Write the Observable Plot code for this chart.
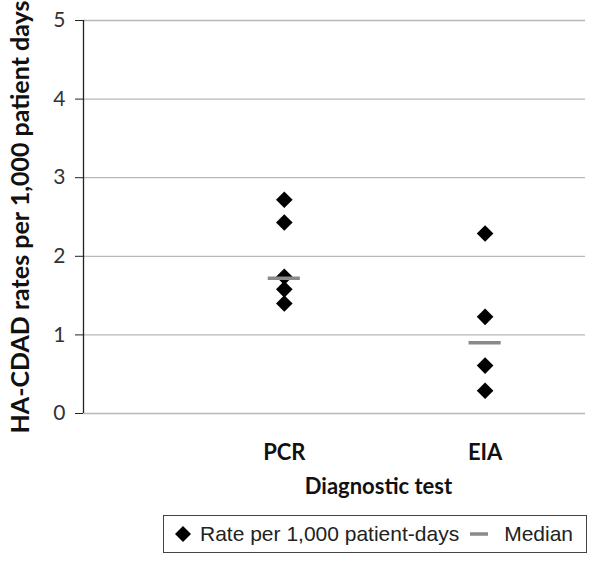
<!DOCTYPE html>
<html><head><meta charset="utf-8">
<script src="https://cdn.jsdelivr.net/npm/d3@7"></script>
<script src="https://cdn.jsdelivr.net/npm/@observablehq/plot@0.6"></script>
<style>
body{margin:0;background:#fff;}
#wrap{position:relative;width:601px;height:563px;}
#legend{position:absolute;left:163px;top:515px;width:424px;height:38px;border:1px solid #444;box-sizing:border-box;font-family:"Liberation Sans",Arial,sans-serif;font-size:21px;color:#222;display:flex;align-items:center;white-space:nowrap;}
#legend svg{display:block;flex:none;}
</style></head><body><div id="wrap"></div>
<script>
const tests = ["PCR", "EIA"];
const pcrRates = [2.72, 2.43, 1.74, 1.58, 1.40];
const eiaRates = [2.29, 1.23, 0.61, 0.29];
const medians = [1.72, 0.90];
const yTicks = [0, 1, 2, 3, 4, 5];
const yTitle = "HA-CDAD rates per 1,000 patient days";
const xTitle = "Diagnostic test";
const legendLabels = ["Rate per 1,000 patient-days", "Median"];

const points = [
  ...pcrRates.map(v => ({test: tests[0], x: 1, v})),
  ...eiaRates.map(v => ({test: tests[1], x: 2, v}))
];
const medianData = medians.map((v, i) => ({test: tests[i], x: i + 1, v}));

const chart = Plot.plot({
  width: 601, height: 563,
  marginLeft: 83, marginRight: 16, marginTop: 20, marginBottom: 150,
  style: {fontFamily: "Lato, sans-serif", background: "white", overflow: "visible"},
  x: {domain: [0, 2.5], axis: null},
  y: {domain: [0, 5], axis: null},
  marks: [
    Plot.gridY(yTicks, {stroke: "#b8b8b8", strokeOpacity: 1, strokeWidth: 1.3}),
    Plot.ruleX([0], {stroke: "#222", strokeWidth: 1.3}),
    Plot.axisY(yTicks, {tickFormat: d => String(d), tickSize: 8, tickPadding: 10, fontSize: 21, stroke: "#222", fill: "#333", label: null}),
    Plot.axisX([1, 2], {tickFormat: d => tests[d - 1], tickSize: 0, tickPadding: 31, fontSize: 22, fontWeight: "bold", fill: "#111", label: null}),
    Plot.text([yTitle], {frameAnchor: "left", textAnchor: "middle", rotate: -90, dx: -63, fontSize: 25, fontWeight: "bold", fill: "#111"}),
    Plot.text([xTitle], {frameAnchor: "bottom", dx: 44, dy: 80, fontSize: 22, fontWeight: "bold", fill: "#111"}),
    Plot.dot(points, {x: "x", y: "v", symbol: "diamond2", r: 7.5, fill: "#000", stroke: "none"}),
    Plot.ruleY(medianData, {y: "v", x1: d => d.x - 0.08, x2: d => d.x + 0.08, stroke: "#8a8a8a", strokeWidth: 3.5})
  ]
});
const wrap = document.getElementById("wrap");
wrap.appendChild(chart);

const legend = document.createElement("div");
legend.id = "legend";
legend.innerHTML =
  `<svg width="27" height="20" style="margin-left:9px"><path d="M10,2 L18,10 L10,18 L2,10Z" fill="#000"/></svg>` +
  `<span>${legendLabels[0]}</span>` +
  `<svg width="36" height="20" style="margin-left:9px"><line x1="2" x2="20" y1="10" y2="10" stroke="#8a8a8a" stroke-width="3.5"/></svg>` +
  `<span>${legendLabels[1]}</span>`;
wrap.appendChild(legend);
</script>
</body></html>
